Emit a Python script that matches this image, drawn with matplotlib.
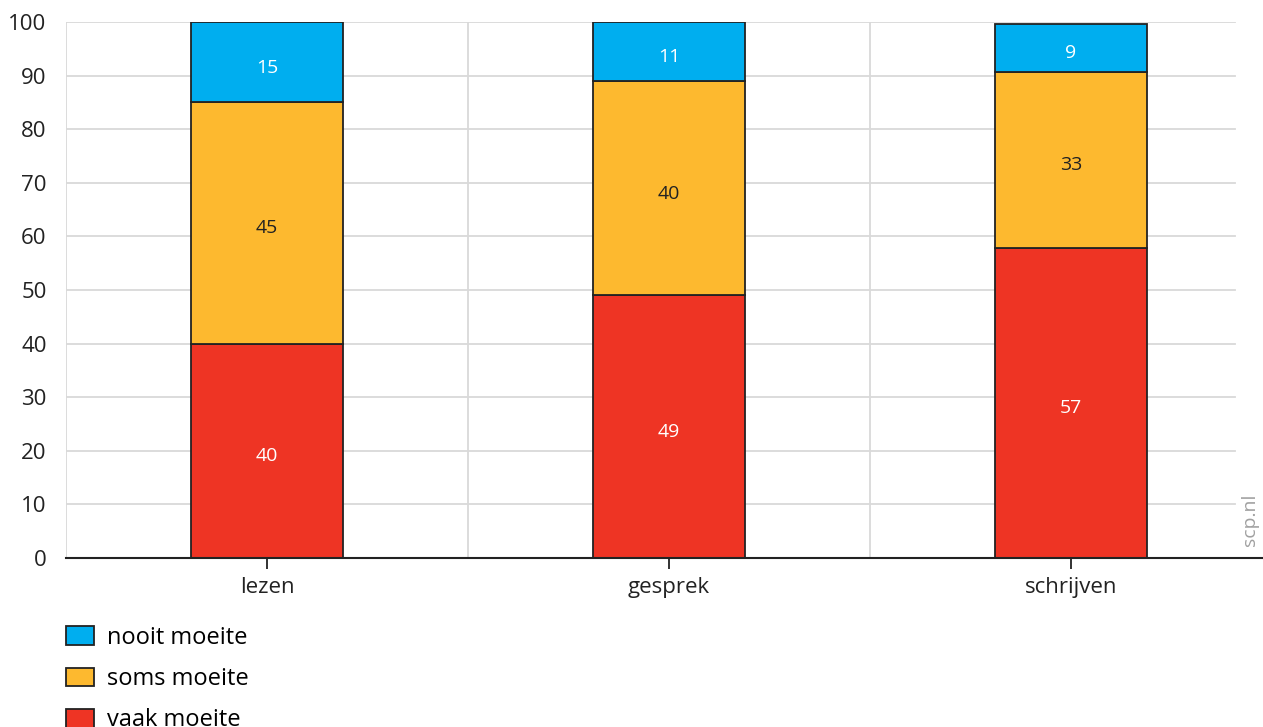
import matplotlib
matplotlib.use("Agg")
from matplotlib import pyplot as plt
import numpy as np

plt.rcParams['font.family'] = ['Open Sans', 'DejaVu Sans']

categories = ['lezen', 'gesprek', 'schrijven']
# bar heights, with the labels printed on the bars
vaak = [40, 49, 57.8]
soms = [45, 40, 32.9]
nooit = [15, 11, 8.9]
vaak_lbl = ['40', '49', '57']
soms_lbl = ['45', '40', '33']
nooit_lbl = ['15', '11', '9']
series_labels = ['vaak moeite', 'soms moeite', 'nooit moeite']
colors = ['#EE3424', '#FDB92F', '#00AEEF']
text_colors = ['white', '#222222', 'white']

fig = plt.figure(figsize=(12.63, 7.27), dpi=100)
ax = fig.add_axes([66 / 1263, 169 / 727, 1197 / 1263, 536 / 727])

x = np.arange(len(categories))
width = 0.38
bottom = np.zeros(len(categories))
handles = []
for vals, lbls, lab, col, tcol in zip([vaak, soms, nooit], [vaak_lbl, soms_lbl, nooit_lbl],
                                      series_labels, colors, text_colors):
    bars = ax.bar(x, vals, width, bottom=bottom, color=col, edgecolor='#222222',
                  linewidth=1.3, label=lab, zorder=3)
    handles.append(bars)
    for xi, v, b, t in zip(x, vals, bottom, lbls):
        ax.text(xi, b + v / 2 - 1, t, ha='center', va='center', color=tcol, fontsize=14, zorder=4)
    bottom = bottom + np.array(vals)

ax.set_xlim(-0.5, -0.5 + 1197 / 402)
ax.set_ylim(0, 100)

# grid
for yv in range(10, 101, 10):
    ax.axhline(yv, xmin=0, xmax=0.977, color='#d9d9d9', linewidth=1.3, zorder=1)
for xv in [-0.5, 0.5, 1.5]:
    ax.axvline(xv, color='#d9d9d9', linewidth=1.3, zorder=1)

for s in ['top', 'right', 'left']:
    ax.spines[s].set_visible(False)
ax.spines['bottom'].set_color('#222222')
ax.spines['bottom'].set_linewidth(1.5)
ax.spines['bottom'].set_zorder(5)

ax.set_yticks(range(0, 101, 10))
ax.tick_params(axis='y', length=0, pad=14, labelsize=16, labelcolor='#222222')
ax.set_xticks(x)
ax.set_xticklabels(categories)
ax.tick_params(axis='x', length=8, width=1.3, color='#222222', pad=6, labelsize=16, labelcolor='#222222')

fig.text(1250 / 1263, 1 - 520 / 727, 'scp.nl', rotation=90, ha='center', va='center',
         color='#a0a0a0', fontsize=14)

fig.legend(handles[::-1], series_labels[::-1], loc='upper left',
           bbox_to_anchor=(66 / 1263, 1 - 626 / 727), frameon=False, fontsize=17,
           handlelength=1.2, handleheight=0.85, labelspacing=0.73, handletextpad=0.55,
           borderaxespad=0, borderpad=0)

fig.savefig('out.png', dpi=100)
